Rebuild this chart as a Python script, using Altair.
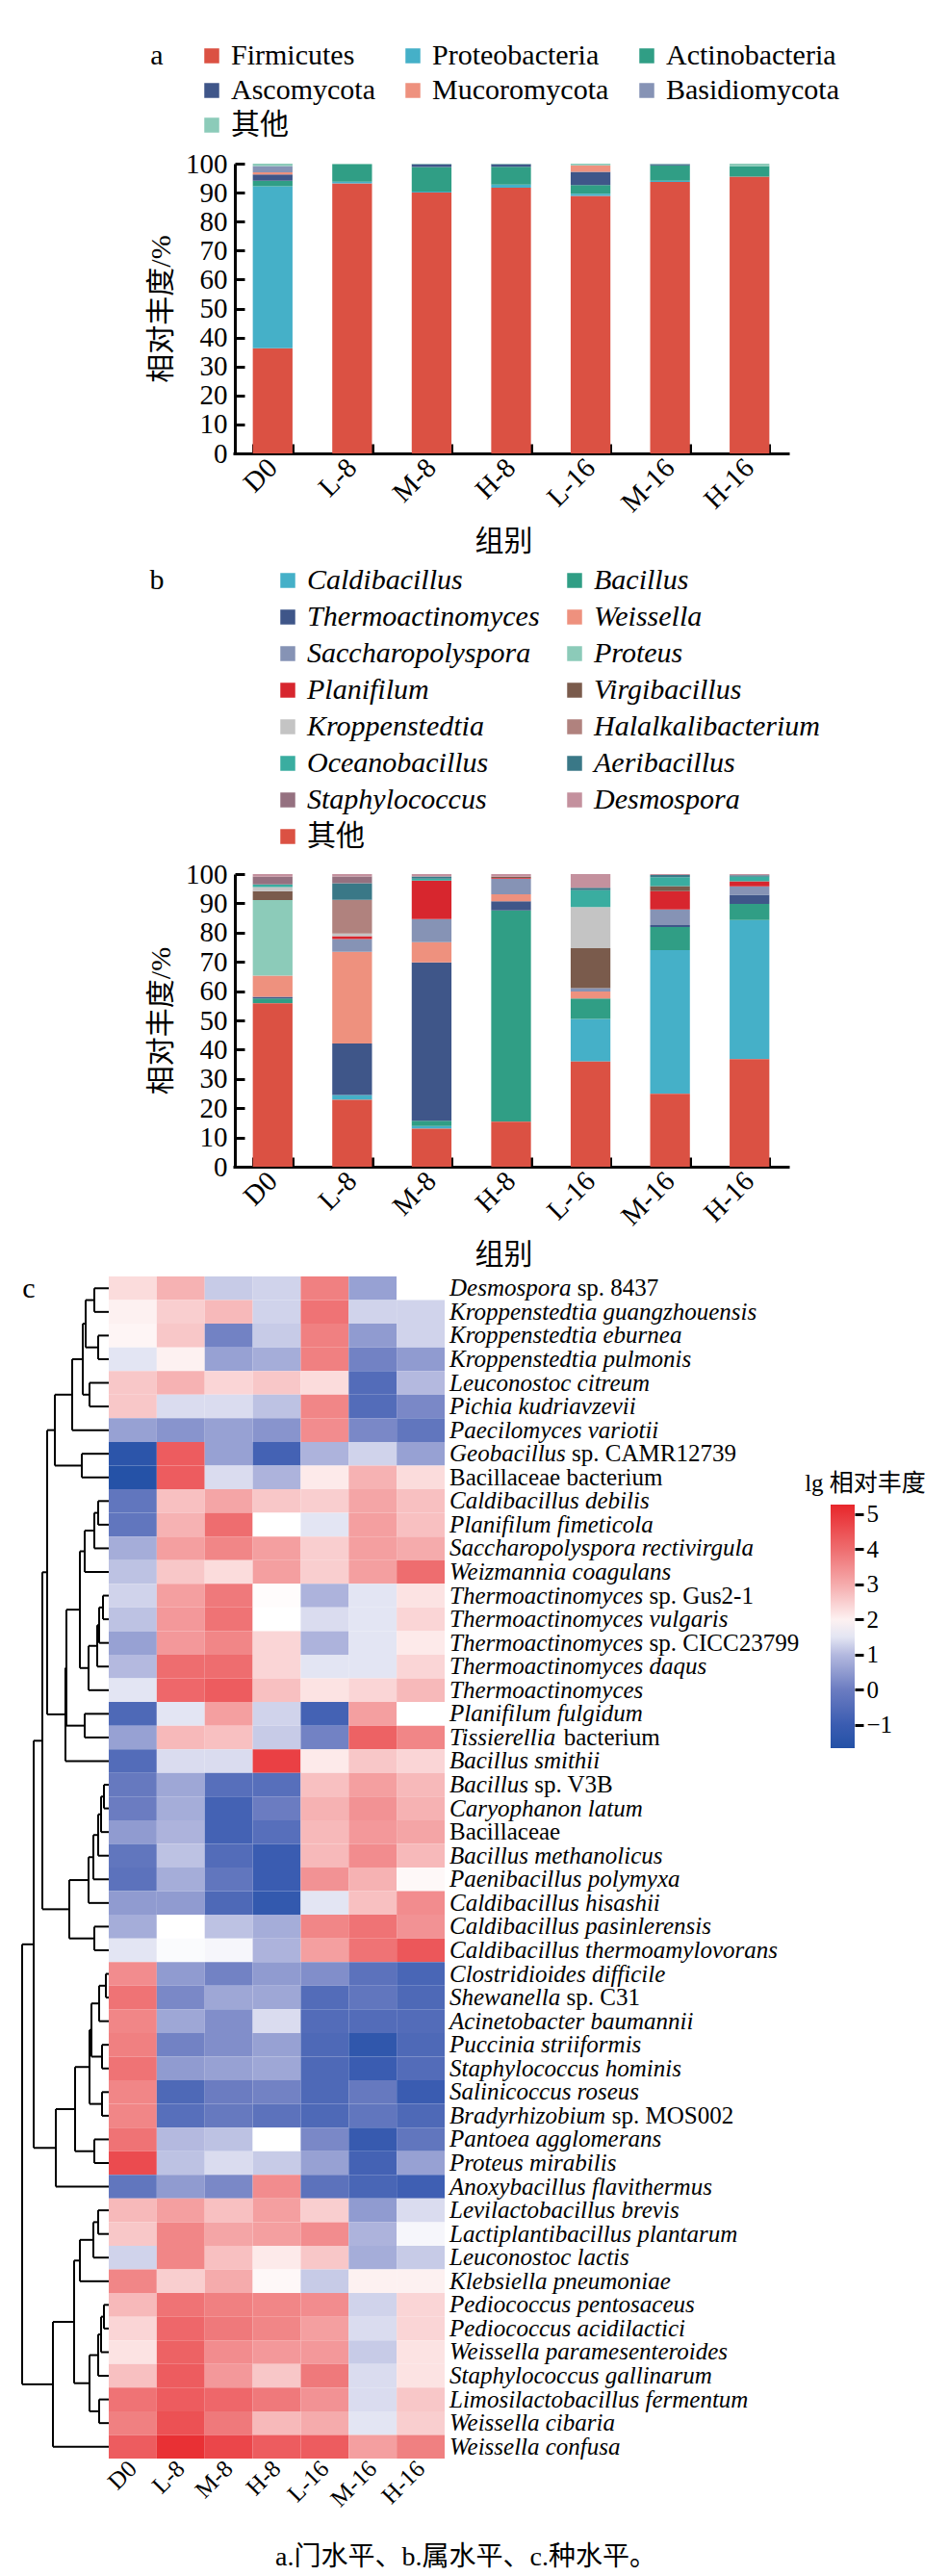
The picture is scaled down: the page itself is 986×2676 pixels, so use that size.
import altair as alt
import pandas as pd

SERIF = "Liberation Serif, Noto Sans CJK SC"
W, H = 986, 2676

groups = ["D0", "L-8", "M-8", "H-8", "L-16", "M-16", "H-16"]

# ---------- a: phylum level, relative abundance (%) ----------
phyla = ["Firmicutes", "Proteobacteria", "Actinobacteria", "Ascomycota",
         "Mucoromycota", "Basidiomycota", "其他"]
phylum_colors = ["#db5143", "#45b0c8", "#309e85", "#3f5689",
                 "#ee917e", "#8693b5", "#8ccbb9"]
firmicutes = [36.3, 93.2, 90.0, 91.7, 88.9, 93.7, 95.5]
proteobacteria = [55.9, 0.6, 0.4, 1.1, 0.7, 0.4, 0.0]
actinobacteria = [1.9, 5.9, 8.4, 6.1, 3.0, 5.3, 3.7]
ascomycota = [2.2, 0.0, 1.0, 0.9, 4.6, 0.4, 0.0]
mucoromycota = [0.7, 0.0, 0.0, 0.0, 2.2, 0.0, 0.0]
basidiomycota = [2.2, 0.0, 0.0, 0.0, 0.0, 0.0, 0.0]
phylum_other = [0.8, 0.3, 0.2, 0.2, 0.6, 0.2, 0.8]

# ---------- b: genus level, relative abundance (%) ----------
genera = ["Caldibacillus", "Bacillus", "Thermoactinomyces", "Weissella",
          "Saccharopolyspora", "Proteus", "Planifilum", "Virgibacillus",
          "Kroppenstedtia", "Halalkalibacterium", "Oceanobacillus",
          "Aeribacillus", "Staphylococcus", "Desmospora", "其他"]
genus_colors = ["#45b0c8", "#309e85", "#3f5689", "#ee917e", "#8693b5",
                "#8ccbb9", "#d7262e", "#7a5b4c", "#c4c4c4", "#b0827e",
                "#3aada0", "#3a7887", "#957180", "#c4919e", "#db5143"]
caldibacillus = [0.0, 1.6, 0.9, 0.0, 14.6, 49.1, 47.5]
bacillus = [1.7, 0.0, 1.8, 72.2, 7.0, 7.9, 5.5]
thermoactinomyces = [0.6, 17.6, 54.1, 3.1, 0.0, 0.7, 3.1]
weissella = [7.2, 31.3, 6.9, 2.4, 2.4, 0.0, 0.0]
saccharopolyspora = [0.0, 4.4, 7.9, 5.3, 1.1, 5.3, 2.9]
proteus = [25.8, 0.0, 0.0, 0.0, 0.0, 0.0, 0.0]
planifilum = [0.0, 1.0, 13.2, 0.3, 0.0, 6.3, 1.7]
virgibacillus = [3.1, 0.0, 0.0, 0.4, 13.7, 1.7, 0.0]
kroppenstedtia = [1.4, 0.9, 0.0, 0.0, 14.0, 0.0, 0.0]
halalkalibacterium = [0.0, 11.5, 0.0, 0.0, 0.0, 0.0, 0.0]
oceanobacillus = [0.9, 0.0, 0.6, 0.0, 5.8, 3.0, 1.6]
aeribacillus = [0.0, 5.7, 0.8, 0.0, 0.8, 0.8, 0.5]
staphylococcus = [2.6, 2.3, 0.0, 0.0, 0.0, 0.0, 0.0]
desmospora = [0.9, 0.8, 0.8, 0.9, 4.7, 0.3, 0.4]
genus_other = [55.8, 22.9, 13.0, 15.4, 35.9, 24.9, 36.8]

# ---------- c: species level, lg relative abundance ----------
# (italic part, upright part)
species = [
    ("Desmospora", "sp. 8437"), ("Kroppenstedtia guangzhouensis", ""),
    ("Kroppenstedtia eburnea", ""), ("Kroppenstedtia pulmonis", ""),
    ("Leuconostoc citreum", ""), ("Pichia kudriavzevii", ""),
    ("Paecilomyces variotii", ""), ("Geobacillus", "sp. CAMR12739"),
    ("", "Bacillaceae bacterium"), ("Caldibacillus debilis", ""),
    ("Planifilum fimeticola", ""), ("Saccharopolyspora rectivirgula", ""),
    ("Weizmannia coagulans", ""), ("Thermoactinomyces", "sp. Gus2-1"),
    ("Thermoactinomyces vulgaris", ""), ("Thermoactinomyces", "sp. CICC23799"),
    ("Thermoactinomyces daqus", ""), ("Thermoactinomyces", ""),
    ("Planifilum fulgidum", ""), ("Tissierellia", "bacterium"),
    ("Bacillus smithii", ""), ("Bacillus", "sp. V3B"),
    ("Caryophanon latum", ""), ("", "Bacillaceae"),
    ("Bacillus methanolicus", ""), ("Paenibacillus polymyxa", ""),
    ("Caldibacillus hisashii", ""), ("Caldibacillus pasinlerensis", ""),
    ("Caldibacillus thermoamylovorans", ""), ("Clostridioides difficile", ""),
    ("Shewanella", "sp. C31"), ("Acinetobacter baumannii", ""),
    ("Puccinia striiformis", ""), ("Staphylococcus hominis", ""),
    ("Salinicoccus roseus", ""), ("Bradyrhizobium", "sp. MOS002"),
    ("Pantoea agglomerans", ""), ("Proteus mirabilis", ""),
    ("Anoxybacillus flavithermus", ""), ("Levilactobacillus brevis", ""),
    ("Lactiplantibacillus plantarum", ""), ("Leuconostoc lactis", ""),
    ("Klebsiella pneumoniae", ""), ("Pediococcus pentosaceus", ""),
    ("Pediococcus acidilactici", ""), ("Weissella paramesenteroides", ""),
    ("Staphylococcus gallinarum", ""), ("Limosilactobacillus fermentum", ""),
    ("Weissella cibaria", ""), ("Weissella confusa", ""),
]
lg_d0 = [2.3, 2.0, 1.95, 1.5, 2.6, 2.6, 0.6, -1.4, -1.6, -0.2,
         -0.2, 0.8, 1.1, 1.3, 1.1, 0.6, 1.0, 1.5, -0.6, 0.6,
         -0.5, -0.1, 0.0, 0.5, -0.2, -0.3, 0.5, 0.8, 1.5, 3.5,
         3.9, 3.6, 3.7, 3.9, 3.6, 3.6, 3.9, 4.6, -0.2, 2.8,
         2.6, 1.3, 3.6, 2.8, 2.4, 2.2, 2.7, 3.9, 3.7, 4.3]
lg_l8 = [2.9, 2.5, 2.6, 2.0, 2.9, 1.4, 0.4, 4.3, 4.3, 2.7,
         2.9, 3.2, 2.6, 3.2, 3.3, 3.3, 4.0, 4.1, 1.5, 2.8,
         1.4, 0.7, 0.8, 0.9, 1.1, 0.8, 0.5, 1.8, 1.75, 0.5,
         0.2, 0.7, 0.1, 0.5, -0.6, -0.4, 1.0, 1.1, 0.5, 3.2,
         3.6, 3.6, 2.5, 3.9, 4.1, 4.2, 4.3, 4.3, 4.5, 5.1]
lg_m8 = [1.2, 2.8, 0.1, 0.6, 2.4, 1.4, 0.6, 0.6, 1.4, 3.1,
         4.0, 3.6, 2.3, 3.8, 3.9, 3.6, 4.0, 4.3, 3.2, 2.7,
         1.4, -0.4, -0.8, -0.8, -0.5, -0.2, -0.6, 1.1, 1.7, 0.1,
         0.7, 0.3, 0.3, 0.6, 0.0, -0.1, 1.1, 1.4, 0.2, 2.7,
         3.1, 2.7, 3.0, 3.7, 3.8, 3.5, 3.3, 4.1, 3.8, 4.7]
lg_h8 = [1.3, 1.3, 1.2, 0.8, 2.6, 1.1, 0.4, -0.8, 0.9, 2.6,
         1.8, 3.2, 3.2, 1.85, 1.8, 2.4, 2.4, 2.7, 1.3, 1.2,
         4.8, -0.4, 0.0, -0.4, -1.0, -1.0, -1.2, 0.8, 0.9, 0.5,
         0.7, 1.4, 0.6, 0.7, 0.1, -0.3, 1.8, 1.2, 3.5, 3.2,
         3.2, 2.1, 1.9, 3.6, 3.6, 3.3, 2.6, 3.8, 2.8, 4.3]
lg_l16 = [3.7, 3.9, 3.7, 3.7, 2.3, 3.6, 3.5, 0.9, 2.1, 2.5,
          1.5, 2.5, 2.5, 0.9, 1.4, 0.9, 1.5, 2.2, -0.8, 0.1,
          2.1, 2.7, 2.9, 2.8, 2.8, 3.4, 1.5, 3.6, 3.2, 0.3,
          -0.5, -0.5, -0.6, -0.6, -0.6, -0.6, 0.2, 0.6, -0.3, 2.5,
          3.5, 2.6, 1.2, 3.5, 3.2, 3.3, 3.8, 3.4, 3.0, 4.3]
lg_m16 = [0.6, 1.3, 0.5, 0.1, -0.5, -0.5, 0.2, 1.3, 2.9, 3.1,
          3.2, 3.2, 3.2, 1.5, 1.5, 1.5, 1.5, 2.4, 3.2, 4.2,
          2.6, 3.2, 3.4, 3.3, 3.5, 2.9, 2.7, 3.9, 3.9, -0.3,
          -0.2, -0.5, -1.3, -1.0, -0.1, -0.2, -1.1, -0.8, -0.7, 0.5,
          0.9, 0.8, 2.0, 1.3, 1.4, 1.2, 1.4, 1.4, 1.5, 3.2]
lg_h16 = [1.8, 1.3, 1.3, 0.5, 1.0, 0.2, -0.2, 0.6, 2.3, 2.7,
          2.7, 3.0, 4.0, 2.2, 2.4, 2.1, 2.4, 2.8, 1.8, 3.6,
          2.4, 2.8, 2.9, 3.1, 2.8, 1.9, 3.5, 3.4, 4.4, -0.7,
          -0.6, -0.5, -0.6, -0.5, -1.0, -0.6, -0.2, 0.6, -0.9, 1.4,
          1.7, 1.2, 2.0, 2.4, 2.4, 2.2, 2.2, 2.6, 2.5, 3.7]
lg_columns = [lg_d0, lg_l8, lg_m8, lg_h8, lg_l16, lg_m16, lg_h16]

# colour ramp of the lg scale (stop values and colours)
ramp_stops = [-1.66, -1.0, 0.0, 1.0, 1.8, 3.0, 4.0, 5.27]
ramp_colors = ["#2351a6", "#3a5cb1", "#6b7cc1", "#b4b9df", "#ffffff",
               "#f5abac", "#ee6d6f", "#e8262b"]

# row clustering: (child, child, merge height); leaves 0..49, merges 50..
linkage = [
    (0, 1, 15), (2, 3, 11), (50, 51, 24), (4, 5, 20), (52, 53, 27),
    (54, 6, 38), (7, 8, 28), (55, 56, 56), (9, 10, 11), (58, 11, 15),
    (59, 12, 25), (13, 14, 6), (61, 15, 10), (62, 16, 12), (63, 17, 21),
    (60, 64, 30), (18, 19, 25), (65, 66, 44), (67, 20, 45), (57, 68, 64),
    (21, 22, 5), (70, 23, 8), (71, 24, 11), (72, 25, 16), (73, 26, 21),
    (27, 28, 15), (74, 75, 41), (69, 76, 69), (29, 30, 3), (78, 31, 10),
    (32, 33, 7), (79, 80, 18), (34, 35, 7), (81, 82, 20), (36, 37, 15),
    (83, 84, 35), (85, 38, 55), (77, 86, 78), (39, 40, 11), (88, 41, 16),
    (89, 42, 30), (43, 44, 5), (91, 45, 8), (92, 46, 11), (47, 48, 10),
    (93, 94, 20), (90, 95, 36), (96, 49, 58), (87, 97, 90),
]
colorbar_ticks = [-1, 0, 1, 2, 3, 4, 5]

# ---------------- tables ----------------
phylum_series = [firmicutes, proteobacteria, actinobacteria, ascomycota,
                 mucoromycota, basidiomycota, phylum_other]
df_a = pd.DataFrame([
    {"group": g, "taxon": t, "pct": vals[i], "stack": k}
    for k, (t, vals) in enumerate(zip(phyla, phylum_series))
    for i, g in enumerate(groups)
])

genus_series = [caldibacillus, bacillus, thermoactinomyces, weissella,
                saccharopolyspora, proteus, planifilum, virgibacillus,
                kroppenstedtia, halalkalibacterium, oceanobacillus,
                aeribacillus, staphylococcus, desmospora, genus_other]
df_b = pd.DataFrame([
    {"group": g, "taxon": t, "pct": vals[i],
     "stack": -1 if t == "其他" else k}
    for k, (t, vals) in enumerate(zip(genera, genus_series))
    for i, g in enumerate(groups)
])

names = [(it + " " + rm).strip() for it, rm in species]
df_c = pd.DataFrame([
    {"name": names[r], "group": g, "lg": lg_columns[j][r]}
    for r in range(len(names)) for j, g in enumerate(groups)
])

# Times-Italic advance widths (1/1000 em) to place upright suffixes
IT_W = dict(zip("abcdefghijklmnopqrstuvwxyz",
                [500, 500, 444, 500, 444, 278, 500, 500, 278, 278, 444, 278, 722,
                 500, 500, 500, 500, 389, 389, 278, 500, 444, 667, 444, 444, 389]))
IT_W.update({"B": 611, "D": 722, "G": 722, "S": 500, "T": 556, " ": 250})
LABEL_X, LABEL_SIZE = 467, 25
df_it = pd.DataFrame([{"name": n, "txt": it} for n, (it, rm) in zip(names, species) if it])
df_rm = pd.DataFrame([
    {"name": n, "txt": rm,
     "px": LABEL_X + (sum(IT_W.get(ch, 500) for ch in it + " ") * LABEL_SIZE / 1000 if it else 0)}
    for n, (it, rm) in zip(names, species) if rm
])

# dendrogram segments from the linkage
pos = {i: i + 0.5 for i in range(len(names))}
hgt = {i: 0.0 for i in range(len(names))}
segs = []
for k, (a, b, h) in enumerate(linkage):
    nid = len(names) + k
    for c in (a, b):
        segs.append({"h1": hgt[c], "h2": h, "p1": pos[c], "p2": pos[c]})
    segs.append({"h1": h, "h2": h, "p1": pos[a], "p2": pos[b]})
    pos[nid] = (pos[a] + pos[b]) / 2
    hgt[nid] = h
df_d = pd.DataFrame(segs)

# ---------------- layout ----------------
def stacked_panel(df, domain, colors, y_top, y_bot, legend):
    xs = alt.Scale(domain=groups, range=[242, 820], paddingInner=0.5, paddingOuter=0.25)
    ys = alt.Scale(domain=[0, 100], range=[y_bot, y_top], nice=False)
    bars = alt.Chart(df).mark_bar(strokeWidth=0).encode(
        x=alt.X("group:N", sort=groups, scale=xs, axis=alt.Axis(
            orient="bottom", offset=y_bot - H, ticks=False, domain=True,
            domainWidth=3, domainColor="black", labelAngle=-45,
            labelAlign="right", labelBaseline="middle", labelPadding=10,
            labelFont=SERIF, labelFontSize=29, labelColor="black",
            title="组别", titleFont=SERIF, titleFontSize=30,
            titleFontWeight="normal", titleColor="black", titlePadding=10,
            titleX=523)),
        y=alt.Y("pct:Q", stack="zero", scale=ys, axis=alt.Axis(
            orient="left", offset=-244, ticks=False, domainWidth=3,
            domainColor="black", values=list(range(0, 101, 10)),
            labelFont=SERIF, labelFontSize=29, labelColor="black",
            labelPadding=8, grid=False, title="相对丰度/%", titleFont=SERIF,
            titleFontSize=30, titleFontWeight="normal", titleColor="black",
            titlePadding=10)),
        color=alt.Color("taxon:N", scale=alt.Scale(domain=domain, range=colors),
                        legend=legend),
        order=alt.Order("stack:Q", sort="ascending"),
    )
    ticks = alt.Chart(df).mark_tick(opacity=0).encode(
        x=alt.X("group:N", sort=groups, scale=xs, axis=alt.Axis(
            orient="top", offset=-y_bot, labels=False, domain=False,
            tickSize=10, tickWidth=3, tickColor="black", tickBand="extent",
            title=None)),
        y=alt.Y("pct:Q", scale=ys, axis=alt.Axis(
            orient="right", offset=244 - W, labels=False, domain=False,
            tickSize=10, tickWidth=3, tickColor="black", grid=False,
            values=list(range(0, 101, 10)), title=None)),
    )
    return [bars, ticks]


def legend_box(x, y, cols, colpad, rowpad, italic):
    opts = dict(orient="none", legendX=x, legendY=y, columns=cols,
                direction="horizontal",
                columnPadding=colpad, rowPadding=rowpad, symbolType="square",
                symbolSize=240, symbolStrokeWidth=0, labelFont=SERIF,
                labelFontSize=30, labelColor="black", labelLimit=500,
                labelOffset=5, padding=0, title=None)
    if italic:
        opts["labelFontStyle"] = {"expr": "datum.label == '其他' ? 'normal' : 'italic'"}
    return alt.Legend(**opts)


layers = []
layers += stacked_panel(df_a, phyla, phylum_colors, 170, 471,
                        legend_box(205, 43, 3, 24, 6, False))
layers += stacked_panel(df_b, genera, genus_colors, 908, 1212,
                        legend_box(284, 588, 2, 21, 8, True))

# heatmap
HX = alt.Scale(domain=groups, range=[113, 462], paddingInner=0, paddingOuter=0)
HY = alt.Scale(domain=names, range=[1326, 2554], paddingInner=0, paddingOuter=0)
CSCALE = alt.Scale(domain=ramp_stops, range=ramp_colors, interpolate="rgb")
heat = alt.Chart(df_c).mark_rect(strokeWidth=0).encode(
    x=alt.X("group:N", sort=groups, scale=HX, axis=alt.Axis(
        orient="bottom", offset=2554 - H, ticks=False, domain=False,
        labelAngle=-45, labelAlign="right", labelBaseline="middle",
        labelPadding=6, labelFont=SERIF, labelFontSize=25,
        labelColor="black", title=None)),
    y=alt.Y("name:N", sort=names, scale=HY, axis=None),
    color=alt.Color("lg:Q", scale=CSCALE, legend=alt.Legend(
        type="gradient", orient="none", legendX=863, legendY=1563,
        direction="vertical", gradientLength=253, gradientThickness=25,
        gradientStrokeWidth=0, labelOpacity=0, padding=0, title=None)),
)
labels_it = alt.Chart(df_it).mark_text(
    align="left", baseline="middle", font="Liberation Serif",
    fontStyle="italic", fontSize=LABEL_SIZE, color="black"
).encode(x=alt.value(LABEL_X), y=alt.Y("name:N", sort=names, scale=HY, axis=None),
         text="txt:N")
labels_rm = alt.Chart(df_rm).mark_text(
    align="left", baseline="middle", font="Liberation Serif",
    fontSize=LABEL_SIZE, color="black"
).encode(x=alt.X("px:Q", scale=None),
         y=alt.Y("name:N", sort=names, scale=HY, axis=None), text="txt:N")

dendro = alt.Chart(df_d).mark_rule(color="black", strokeWidth=2).encode(
    x=alt.X("h1:Q", scale=alt.Scale(domain=[0, 90], range=[113, 23]), axis=None),
    x2="h2:Q",
    y=alt.Y("p1:Q", scale=alt.Scale(domain=[0, 50], range=[1326, 2554]), axis=None),
    y2="p2:Q",
)

cbar_axis = alt.Chart(pd.DataFrame({"v": colorbar_ticks})).mark_tick(opacity=0).encode(
    y=alt.Y("v:Q", scale=alt.Scale(domain=[-1.66, 5.27], range=[1816, 1563], nice=False),
            axis=alt.Axis(orient="right", offset=888 - W, values=colorbar_ticks,
                          domain=False, tickSize=9, tickWidth=3, tickColor="black",
                          labelFont=SERIF, labelFontSize=25, labelColor="black",
                          labelPadding=3, grid=False, title=None)),
)
layers += [heat, labels_it, labels_rm, dendro, cbar_axis]


def note(text, x, y, size, align="center"):
    return alt.Chart(pd.DataFrame({"t": [text]})).mark_text(
        font=SERIF, fontSize=size, color="black", align=align, baseline="middle"
    ).encode(x=alt.value(x), y=alt.value(y), text="t:N")


layers += [
    note("a", 163, 58, 30),
    note("b", 163, 603, 30),
    note("c", 30, 1339, 30),
    note("lg 相对丰度", 899, 1541, 25),
    note("a.门水平、b.属水平、c.种水平。", 484, 2657, 28),
]

chart = alt.layer(*layers).resolve_scale(
    x="independent", y="independent", color="independent"
).resolve_axis(x="independent", y="independent").resolve_legend(
    color="independent"
).properties(
    width=W, height=H, padding=0, autosize=alt.AutoSizeParams(type="none"),
    background="white"
).configure_view(stroke="transparent").configure_axis(grid=False)

chart.save("out.html", embed_options={"renderer": "svg", "actions": False})
